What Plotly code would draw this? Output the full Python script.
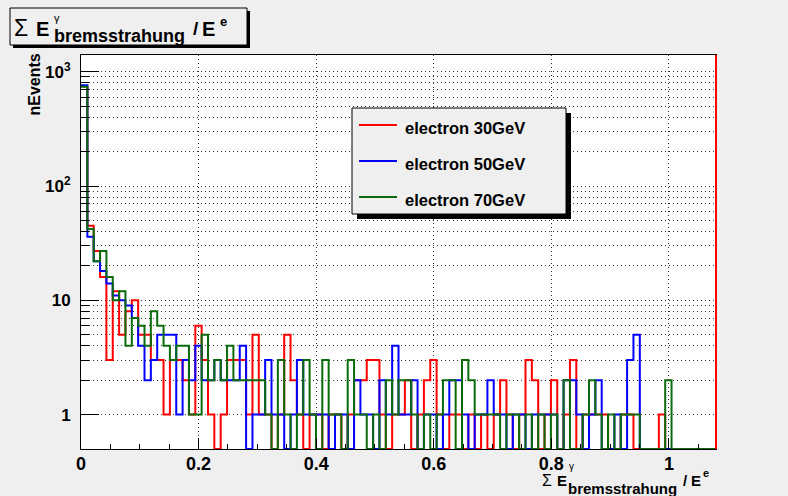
import numpy as np
import plotly.graph_objects as go

# Histogram binning: 100 bins over [0, 1.08]
BIN_LO, BIN_HI, N_BINS = 0.0, 1.08, 100

# Event counts per bin (sum of brems photon energy / electron energy)
electron_30 = [745, 45, 27, 16, 3, 12, 5, 8, 10, 5,
               5, 3, 3, 1, 3, 3, 2, 1, 6, 3,
               1, 0, 1, 3, 3, 3, 1, 5, 1, 1,
               0, 1, 5, 2, 1, 0, 1, 1, 0, 1,
               1, 0, 1, 2, 2, 3, 3, 1, 0, 1,
               1, 2, 0, 1, 2, 3, 1, 0, 1, 1,
               0, 1, 0, 1, 0, 1, 2, 1, 0, 1,
               3, 2, 0, 1, 2, 0, 1, 3, 0, 1,
               1, 1, 1, 0, 0, 1, 1, 0, 0, 0,
               0, 1, 0, 0, 0, 0, 0, 0, 0, 0]
electron_50 = [760, 36, 22, 18, 14, 11, 10, 9, 7, 4,
               2, 3, 5, 5, 5, 1, 3, 2, 4, 2,
               2, 3, 2, 2, 2, 4, 0, 1, 1, 3,
               1, 1, 0, 1, 3, 1, 1, 1, 1, 0,
               1, 1, 0, 2, 1, 1, 0, 2, 1, 4,
               1, 1, 2, 0, 1, 1, 0, 1, 2, 2,
               1, 0, 1, 1, 2, 1, 1, 0, 1, 1,
               0, 1, 1, 1, 1, 0, 2, 2, 1, 0,
               1, 2, 0, 0, 1, 0, 3, 5, 0, 0,
               0, 0, 0, 0, 0, 0, 0, 0, 0, 0]
electron_70 = [740, 42, 22, 27, 16, 10, 12, 4, 7, 6,
               4, 8, 6, 4, 3, 4, 4, 1, 1, 5,
               2, 3, 2, 4, 2, 2, 2, 2, 2, 1,
               0, 3, 1, 0, 1, 3, 1, 0, 3, 1,
               1, 0, 3, 1, 1, 0, 1, 0, 2, 1,
               2, 2, 1, 0, 1, 0, 1, 2, 2, 0,
               3, 2, 1, 1, 1, 1, 0, 1, 1, 0,
               1, 0, 1, 0, 1, 0, 2, 0, 0, 1,
               2, 1, 0, 1, 0, 1, 1, 1, 0, 0,
               0, 0, 2, 0, 0, 0, 0, 0, 0, 0]

series_names = ["electron 30GeV", "electron 50GeV", "electron 70GeV"]
series_colors = ["#ff0000", "#0000ff", "#0b6b0b"]

x_tick_vals = [0, 0.2, 0.4, 0.6, 0.8, 1]
x_tick_text = ["0", "0.2", "0.4", "0.6", "0.8", "1"]
y_tick_vals = [1, 10, 100, 1000]
y_tick_text = ["1", "10", "10<sup>2</sup>", "10<sup>3</sup>"]
Y_MIN, Y_MAX = 0.5, 1400

# Canvas geometry (pixels)
W, H = 788, 496
L, R, T, B = 81, 716, 55, 449
BG = "#efefef"
FONT = "Liberation Sans"


def px(x):
    return (x - L) / (R - L)


def py(y):
    return (B - y) / (B - T)


edges = np.linspace(BIN_LO, BIN_HI, N_BINS + 1)
fig = go.Figure()
for counts, name, color in zip([electron_30, electron_50, electron_70],
                               series_names, series_colors):
    c = np.asarray(counts, dtype=float)
    # empty bins sit on the bottom of the log frame
    c = np.where(c > 0, c, Y_MIN)
    fig.add_trace(go.Scatter(
        x=edges, y=np.append(c, c[-1]), mode="lines", name=name,
        line=dict(color=color, width=2, shape="hv"), showlegend=False,
        hoverinfo="skip"))

minor_y = [m * 10 ** d for d in range(0, 4) for m in range(2, 10)]
grid_dash = "1px,3px"

fig.update_layout(
    width=W, height=H,
    margin=dict(l=L, r=W - R, t=T, b=H - B, autoexpand=False),
    paper_bgcolor=BG, plot_bgcolor="white",
    font=dict(family=FONT, color="black"),
    xaxis=dict(
        range=[BIN_LO, BIN_HI], tickvals=x_tick_vals, ticktext=x_tick_text,
        ticks="inside", ticklen=11, tickcolor="black", tickwidth=1,
        tickfont=dict(family=FONT, size=18, weight="bold"),
        ticklabelstandoff=-2,
        showgrid=True, gridcolor="#333", gridwidth=1, griddash=grid_dash,
        showline=True, linecolor="black", linewidth=1, mirror=True,
        zeroline=False,
        minor=dict(dtick=0.05, ticks="inside", ticklen=5, tickcolor="black",
                   showgrid=False),
    ),
    yaxis=dict(
        type="log", range=[np.log10(Y_MIN), np.log10(Y_MAX)],
        tickvals=y_tick_vals, ticktext=y_tick_text,
        ticks="inside", ticklen=18, tickcolor="black", tickwidth=1,
        tickfont=dict(family=FONT, size=17, weight="bold"),
        ticklabelstandoff=6,
        showgrid=True, gridcolor="#333", gridwidth=1, griddash=grid_dash,
        showline=True, linecolor="black", linewidth=1, mirror=True,
        zeroline=False,
        minor=dict(tickvals=minor_y, ticks="inside", ticklen=8,
                   tickcolor="black", showgrid=True, gridcolor="#333",
                   gridwidth=1, griddash=grid_dash),
    ),
)

shapes = []
# red closing edge of the 30 GeV outline along the right frame
shapes.append(dict(type="line", xref="paper", yref="paper", x0=1, x1=1,
                   y0=0, y1=1, line=dict(color="#ff0000", width=2)))
# title pave with shadow
shapes.append(dict(type="rect", xref="paper", yref="paper",
                   x0=px(13), x1=px(250), y0=py(11), y1=py(48),
                   fillcolor="black", line=dict(width=0)))
shapes.append(dict(type="rect", xref="paper", yref="paper",
                   x0=px(10), x1=px(247), y0=py(8), y1=py(45),
                   fillcolor=BG, line=dict(color="black", width=1)))
# legend pave with shadow
shapes.append(dict(type="rect", xref="paper", yref="paper",
                   x0=px(357), x1=px(571), y0=py(113), y1=py(219),
                   fillcolor="black", line=dict(width=0)))
shapes.append(dict(type="rect", xref="paper", yref="paper",
                   x0=px(352), x1=px(566), y0=py(108), y1=py(214),
                   fillcolor=BG, line=dict(color="black", width=1)))
legend_rows = [125, 161, 197]
for row, color in zip(legend_rows, series_colors):
    shapes.append(dict(type="line", xref="paper", yref="paper",
                       x0=px(359), x1=px(397), y0=py(row), y1=py(row),
                       line=dict(color=color, width=2)))
fig.update_layout(shapes=shapes)


def label(text, x, y, size, bold=True, rot=0, anchor="left"):
    fig.add_annotation(
        text=text, xref="paper", yref="paper", x=px(x), y=py(y),
        xanchor=anchor, yanchor="middle", showarrow=False, textangle=rot,
        borderpad=0,
        font=dict(family=FONT, size=size, color="black",
                  weight="bold" if bold else "normal"))


# legend labels
for row, name in zip(legend_rows, series_names):
    label(name, 404, row + 2.5, 16.5)

# title: Σ E^γ_bremsstrahung / E^e
label("Σ", 13, 28, 23, bold=False)
label("E", 35, 28.5, 20)
label("γ", 53, 18, 11, bold=False)
label("bremsstrahung", 53, 36, 18)
label("/", 192, 28.5, 19)
label("E", 201, 28.5, 20)
label("e", 219, 21, 13)

# x-axis title
label("Σ", 541, 480, 16, bold=False)
label("E", 556, 480.5, 15)
label("γ", 568, 466, 10, bold=False)
label("bremsstrahung", 567, 488, 15)
label("/", 682, 480.5, 15)
label("E", 690, 480.5, 15)
label("e", 702, 473, 11)

# y-axis title
label("nEvents", 33.5, 84, 16, rot=-90, anchor="center")

fig.write_html("out.html")
